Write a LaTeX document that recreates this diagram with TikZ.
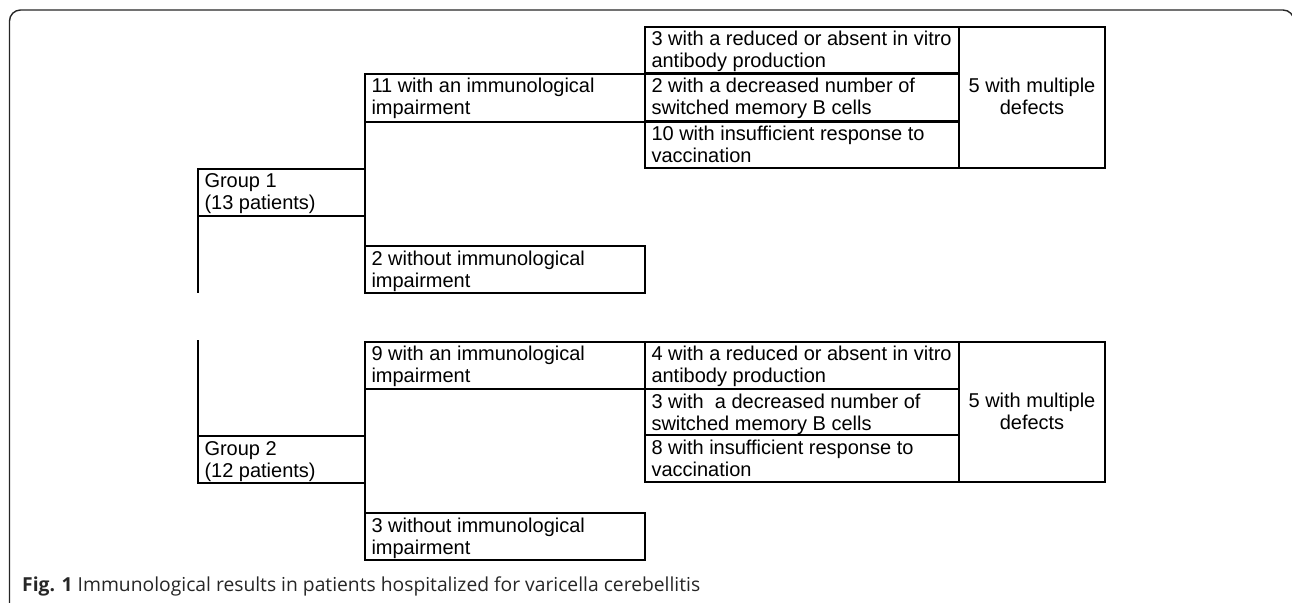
\documentclass[tikz,border=0pt]{standalone}
\usepackage{fontspec}
\setmainfont{Liberation Sans}
\newfontfamily\capfont{Open Sans}
\begin{document}
\begin{tikzpicture}[x=1bp,y=-1bp,
  cell/.style={draw=black, line width=2.2bp, rectangle, anchor=north west,
    outer sep=0pt, inner xsep=6.5bp, inner ysep=0pt, text height=19bp,
    font=\fontsize{20bp}{22bp}\selectfont},
  multi/.style={draw=black, line width=2.2bp, rectangle, anchor=north west,
    outer sep=0pt, inner xsep=6.5bp, inner ysep=0pt, text height=65.5bp,
    font=\fontsize{20bp}{22bp}\selectfont},
  conn/.style={draw=black, line width=2.2bp},
  frame/.style={draw=black!85, line width=1.4bp, rounded corners=11bp}]
\useasboundingbox (0,0) rectangle (1292,603);
\newcommand\lt[3]{\parbox[t]{#1bp}{\raggedright #2\\#3}}
\newcommand\ct[3]{\parbox[t]{#1bp}{\centering #2\\#3}}
% outer frame
\draw[frame] (9.5,610) -- (9.5,10) -- (1294,10) -- (1294,610);
% ---------------- Group 1 ----------------
\node[cell, text depth=28bp, minimum width=167bp] (G1) at (198,169)
  {\lt{154}{Group 1}{(13 patients)}};
\node[cell, text depth=29bp, minimum width=280bp] (M1a) at (365,74)
  {\lt{267}{11 with an immunological}{impairment}};
\node[cell, text depth=28bp, minimum width=280bp] (M1b) at (365,246)
  {\lt{267}{2 without immunological}{impairment}};
\node[cell, text depth=27.5bp, minimum width=314bp] (R1a) at (645,27)
  {\lt{301}{3 with a reduced or absent in vitro}{antibody production}};
\node[cell, text depth=29bp, minimum width=314bp] (R1b) at (645,73.5)
  {\lt{301}{2 with a decreased number of}{switched memory B cells}};
\node[cell, text depth=27.5bp, minimum width=314bp] (R1c) at (645,121.7)
  {\lt{301}{10 with insufficient response to}{vaccination}};
\node[multi, text depth=75.8bp, minimum width=146bp] (D1) at (959,27)
  {\ct{133}{5 with multiple}{defects}};
\coordinate (g1end) at (198,293);
\draw[conn] (M1a.south west) -- (M1b.north west);
\draw[conn] (G1.south west) -- (g1end);
% ---------------- Group 2 ----------------
\coordinate (g2start) at (198,340);
\node[cell, text depth=28bp, minimum width=167bp] (G2) at (198,436)
  {\lt{154}{Group 2}{(12 patients)}};
\node[cell, text depth=28.3bp, minimum width=280bp] (M2a) at (365,341.7)
  {\lt{267}{9 with an immunological}{impairment}};
\node[cell, text depth=28bp, minimum width=280bp] (M2b) at (365,513)
  {\lt{267}{3 without immunological}{impairment}};
\node[cell, text depth=28.3bp, minimum width=314bp] (R2a) at (645,341.7)
  {\lt{301}{4 with a reduced or absent in vitro}{antibody production}};
\node[cell, text depth=27bp, minimum width=314bp] (R2b) at (645,389)
  {\lt{301}{3 with\ \ a decreased number of}{switched memory B cells}};
\node[cell, text depth=28bp, minimum width=314bp] (R2c) at (645,435)
  {\lt{301}{8 with insufficient response to}{vaccination}};
\node[multi, text depth=74.8bp, minimum width=146bp] (D2) at (959,341.7)
  {\ct{133}{5 with multiple}{defects}};
\draw[conn] (g2start) -- (G2.north west);
\draw[conn] (M2a.south west) -- (M2b.north west);
% caption
\node[anchor=base west, inner sep=0pt, text=black!85] (cap) at (22,591)
  {\resizebox{678bp}{!}{\capfont\fontsize{17bp}{20bp}\selectfont\textbf{Fig. 1} Immunological results in patients hospitalized for varicella cerebellitis}};
\end{tikzpicture}
\end{document}
